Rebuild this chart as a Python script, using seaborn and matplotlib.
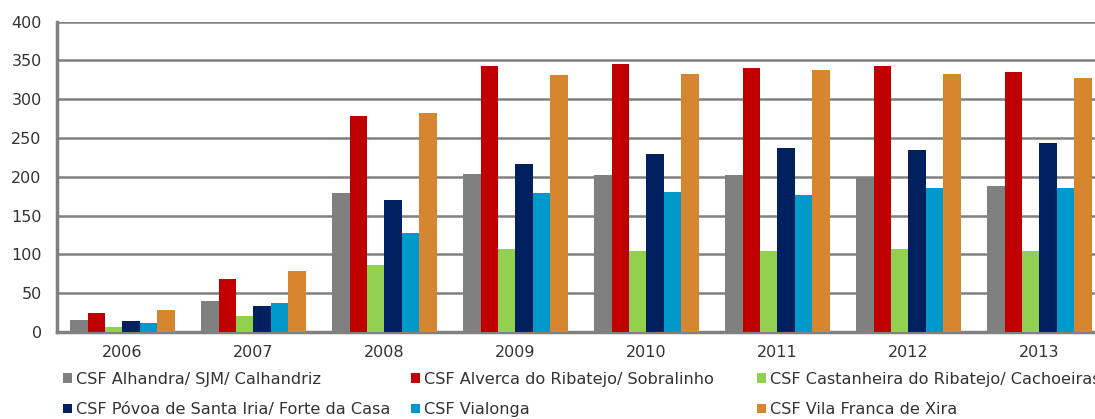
import numpy as np
import pandas as pd
import matplotlib
matplotlib.use("Agg")
import matplotlib.pyplot as plt
from matplotlib.patches import Patch
import seaborn as sns

years = ["2006", "2007", "2008", "2009", "2010", "2011", "2012", "2013"]
series = [
    "CSF Alhandra/ SJM/ Calhandriz",
    "CSF Alverca do Ribatejo/ Sobralinho",
    "CSF Castanheira do Ribatejo/ Cachoeiras",
    "CSF Póvoa de Santa Iria/ Forte da Casa",
    "CSF Vialonga",
    "CSF Vila Franca de Xira",
]
alhandra = [16, 40, 179, 204, 203, 202, 200, 188]
alverca = [25, 68, 278, 343, 345, 340, 343, 335]
castanheira = [6, 20, 86, 107, 104, 105, 107, 105]
povoa = [14, 34, 170, 217, 229, 237, 234, 244]
vialonga = [11, 37, 127, 179, 181, 177, 185, 185]
vila_franca = [29, 79, 282, 331, 333, 338, 332, 328]
colors = ["#808080", "#C00000", "#92D050", "#002060", "#0099CC", "#D6862E"]

values = [alhandra, alverca, castanheira, povoa, vialonga, vila_franca]
df = pd.DataFrame(
    [(y, s, v) for s, vals in zip(series, values) for y, v in zip(years, vals)],
    columns=["year", "series", "value"],
)

sns.set_style("white")
plt.rcParams["font.family"] = ["DejaVu Sans"]

fig = plt.figure(figsize=(10.95, 4.19), dpi=100)
ax = fig.add_axes([57 / 1095, 87 / 419, 1048 / 1095, 310.3 / 419])

sns.barplot(
    data=df, x="year", y="value", hue="series", hue_order=series,
    order=years, palette=colors, width=0.8, saturation=1,
    legend=False, ax=ax, linewidth=0, zorder=3,
)

grid_c = "#808080"
text_c = "#333333"
ax.set_xlim(-0.5, len(years) - 0.5)
ax.set_ylim(0, 400)
ax.set_yticks(np.arange(0, 401, 50))
ax.yaxis.grid(True, color=grid_c, lw=1.8, zorder=0)
ax.xaxis.grid(False)
ax.set_axisbelow(True)
ax.set_xlabel("")
ax.set_ylabel("")

for side in ["top", "right"]:
    ax.spines[side].set_visible(False)
for side in ["left", "bottom"]:
    ax.spines[side].set_color(grid_c)
    ax.spines[side].set_linewidth(2.5)

ax.set_xticks(np.arange(-0.5, len(years), 1), minor=True)
ax.tick_params(axis="x", which="major", length=0, pad=9, labelsize=11.5, labelcolor=text_c)
ax.tick_params(axis="x", which="minor", length=4, width=1.5, color=grid_c, direction="out")
ax.tick_params(axis="y", length=4, width=1.5, color=grid_c, direction="out",
               labelsize=11.5, labelcolor=text_c, pad=7)

# Three legend columns at fixed positions, two entries each
handles = [Patch(facecolor=c, edgecolor="none") for c in colors]
col_x = [63 / 1095, 411 / 1095, 757 / 1095]
for i, x in enumerate(col_x):
    idx = [i, i + 3]
    fig.legend(
        [handles[j] for j in idx], [series[j] for j in idx],
        loc="upper left", bbox_to_anchor=(x, 47 / 419),
        frameon=False, fontsize=11.6, handlelength=0.55, handleheight=0.55,
        handletextpad=0.25, labelspacing=0.95, borderpad=0, borderaxespad=0,
        labelcolor=text_c,
    )

fig.savefig("out.png", dpi=100)
